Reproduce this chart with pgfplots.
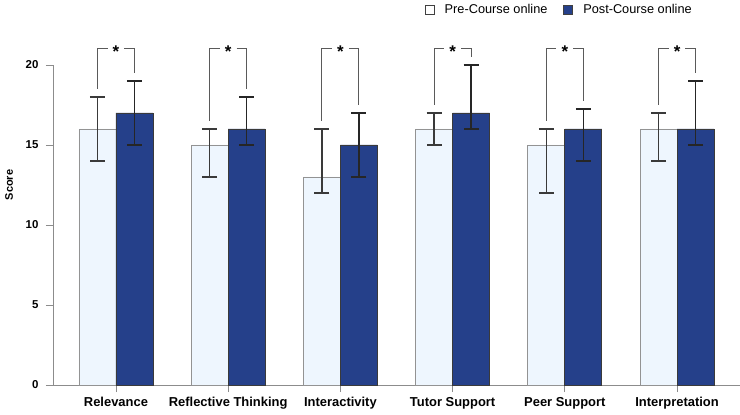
\documentclass[border=0pt]{standalone}
\usepackage{pgfplots}
\pgfplotsset{compat=1.18}
\usepackage{pgfplotstable}
\usepackage{fontspec}
\setmainfont{Liberation Sans}
\definecolor{prefill}{HTML}{EEF6FE}
\definecolor{postfill}{HTML}{25408A}
\definecolor{axgray}{HTML}{8C8C8C}
\definecolor{brk}{HTML}{5A5A5A}
\definecolor{errc}{HTML}{3A3A3A}

\pgfplotstableread{
xa xb pre pep pem post pop pom
-0.165 0.165 16 2 2 17 2 2
0.835 1.165 15 1 2 16 2 1
1.835 2.165 13 3 1 15 2 2
2.835 3.165 16 1 1 17 3 1
3.835 4.165 15 1 3 16 1.25 2
4.835 5.165 16 1 2 16 3 1
}\datatable

\begin{document}
\begin{tikzpicture}
\useasboundingbox (-53bp,-30bp) rectangle (687bp,385bp);
\begin{axis}[
  at={(0,0)}, anchor=south west,
  scale only axis, width=687bp, height=320bp,
  xmin=-0.561, xmax=5.561, ymin=0, ymax=20,
  axis x line=bottom, axis y line=left,
  axis line style={-, axgray, line width=0.9bp},
  clip=false,
  xtick={0,...,5},
  xticklabels={Relevance, Reflective Thinking, Interactivity, Tutor Support, Peer Support, Interpretation},
  ytick={0,5,...,20},
  tick align=outside, major tick length=7bp,
  tick style={axgray, line width=0.9bp},
  /pgf/number format/assume math mode=true,
  xticklabel style={font=\bfseries\fontsize{13}{15}\selectfont, yshift=-1.5bp},
  yticklabel style={font=\bfseries\fontsize{11.5}{13}\selectfont, xshift=-4bp},
  ylabel={Score},
  ylabel style={font=\bfseries\fontsize{11}{13}\selectfont, at={(axis description cs:-0.064,0.625)}, anchor=center},
  legend style={at={(rel axis cs:0.737,1.172)}, anchor=center, draw=none, fill=none,
    legend columns=2, font=\fontsize{12.8}{14}\selectfont,
    /tikz/every odd column/.append style={column sep=8bp},
    /tikz/every even column/.append style={column sep=14bp}},
  brkt/.style={forget plot, brk, line width=0.9bp, mark=none},
]
\addlegendimage{legend image code/.code={\draw[fill=white, draw=black!75, line width=0.8bp] (0bp,-4bp) rectangle (9bp,5bp);}}
\addlegendentry{Pre-Course online}
\addlegendimage{legend image code/.code={\draw[fill=postfill, draw=black!75, line width=0.8bp] (0bp,-4bp) rectangle (9bp,5bp);}}
\addlegendentry{Post-Course online}

\addplot[forget plot, ybar, bar width=37bp, bar shift=0pt, fill=prefill, draw=gray!85, line width=0.8bp,
  error bars/.cd, y dir=both, y explicit,
  error bar style={line width=1.3bp, color=errc},
  error mark options={rotate=90, mark size=7.5bp, line width=1.3bp, color=errc}]
  table[x=xa, y=pre, y error plus=pep, y error minus=pem] {\datatable};
\addplot[forget plot, ybar, bar width=37bp, bar shift=0pt, fill=postfill, draw=errc, line width=0.8bp,
  error bars/.cd, y dir=both, y explicit,
  error bar style={line width=1.4bp, color=black!85},
  error mark options={rotate=90, mark size=7.5bp, line width=1.4bp, color=black!85}]
  table[x=xb, y=post, y error plus=pop, y error minus=pom] {\datatable};

\addplot[brkt] coordinates {(-0.165,18.5) (-0.165,21.06) (-0.075,21.06)};
\addplot[brkt] coordinates {(0.075,21.06) (0.165,21.06) (0.165,19.5)};
\addplot[brkt] coordinates {(0.835,16.5) (0.835,21.06) (0.925,21.06)};
\addplot[brkt] coordinates {(1.075,21.06) (1.165,21.06) (1.165,18.5)};
\addplot[brkt] coordinates {(1.835,16.5) (1.835,21.06) (1.925,21.06)};
\addplot[brkt] coordinates {(2.075,21.06) (2.165,21.06) (2.165,17.5)};
\addplot[brkt] coordinates {(2.835,17.5) (2.835,21.06) (2.925,21.06)};
\addplot[brkt] coordinates {(3.075,21.06) (3.165,21.06) (3.165,20.5)};
\addplot[brkt] coordinates {(3.835,16.5) (3.835,21.06) (3.925,21.06)};
\addplot[brkt] coordinates {(4.075,21.06) (4.165,21.06) (4.165,17.75)};
\addplot[brkt] coordinates {(4.835,17.5) (4.835,21.06) (4.925,21.06)};
\addplot[brkt] coordinates {(5.075,21.06) (5.165,21.06) (5.165,19.5)};

\pgfplotsinvokeforeach{0,...,5}{
  \node[font=\bfseries\fontsize{17}{17}\selectfont, inner sep=0pt] at (axis cs:#1,20.85) {*};
}
\end{axis}
\end{tikzpicture}
\end{document}
